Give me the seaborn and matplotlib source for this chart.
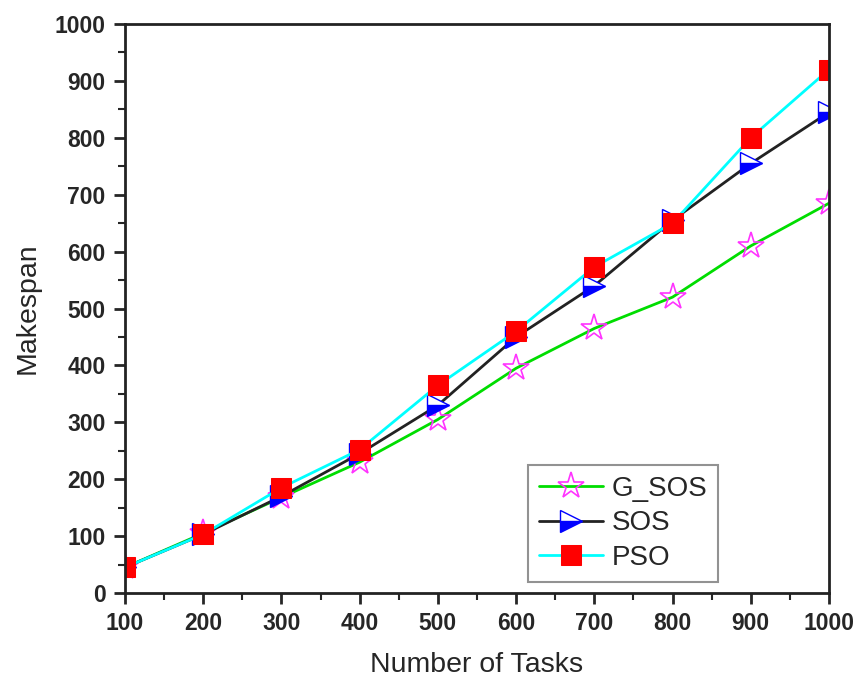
import matplotlib
matplotlib.use("Agg")
import matplotlib.pyplot as plt
from matplotlib.ticker import MultipleLocator
import seaborn as sns

# values
tasks = [100, 200, 300, 400, 500, 600, 700, 800, 900, 1000]
g_sos = [45, 105, 168, 230, 305, 395, 465, 520, 610, 685]
sos = [45, 103, 170, 245, 330, 450, 540, 655, 755, 845]
pso = [45, 103, 185, 252, 365, 460, 573, 650, 800, 920]

sns.set_style("white")
plt.rcParams['font.family'] = ['Liberation Sans', 'DejaVu Sans']

fig = plt.figure(figsize=(8.58, 6.82), dpi=100)
ax = fig.add_axes([0.1457, 0.1305, 0.8205, 0.8343])

sns.lineplot(x=tasks, y=g_sos, ax=ax, color='#00dd00', lw=2, marker='*',
             markersize=20, markerfacecolor='none', markeredgecolor='#ff33ff',
             markeredgewidth=1.2, label='G_SOS')
sns.lineplot(x=tasks, y=sos, ax=ax, color='#222222', lw=2, marker='>',
             markersize=16, markerfacecolor='blue', markerfacecoloralt='white',
             fillstyle='bottom', markeredgecolor='blue', markeredgewidth=1,
             label='SOS')
sns.lineplot(x=tasks, y=pso, ax=ax, color='cyan', lw=2, marker='s',
             markersize=14, markerfacecolor='red', markeredgecolor='red',
             label='PSO')

ax.set_xlim(100, 1000)
ax.set_ylim(0, 1000)
ax.xaxis.set_major_locator(MultipleLocator(100))
ax.xaxis.set_minor_locator(MultipleLocator(50))
ax.yaxis.set_major_locator(MultipleLocator(100))
ax.yaxis.set_minor_locator(MultipleLocator(50))
ax.tick_params(which='major', direction='out', length=8, width=2, pad=6,
               labelsize=16.5, bottom=True, left=True, top=False, right=False)
ax.tick_params(which='minor', direction='out', length=5, width=1.5,
               bottom=True, left=True, top=False, right=False)
for lab in ax.get_xticklabels() + ax.get_yticklabels():
    lab.set_fontweight('bold')

for s in ax.spines.values():
    s.set_color('#222222')
    s.set_linewidth(2)

ax.set_xlabel('Number of Tasks', fontsize=20.5, labelpad=12)
ax.set_ylabel('Makespan', fontsize=20.5, labelpad=10)

leg = ax.legend(loc='upper right', bbox_to_anchor=(0.843, 0.225),
                borderaxespad=0, fontsize=20, frameon=True, fancybox=False,
                edgecolor='#777777', handlelength=2.3, borderpad=0.4,
                labelspacing=0.3, handletextpad=0.3)
leg.get_frame().set_linewidth(1.5)

fig.savefig('out.png', dpi=100)
